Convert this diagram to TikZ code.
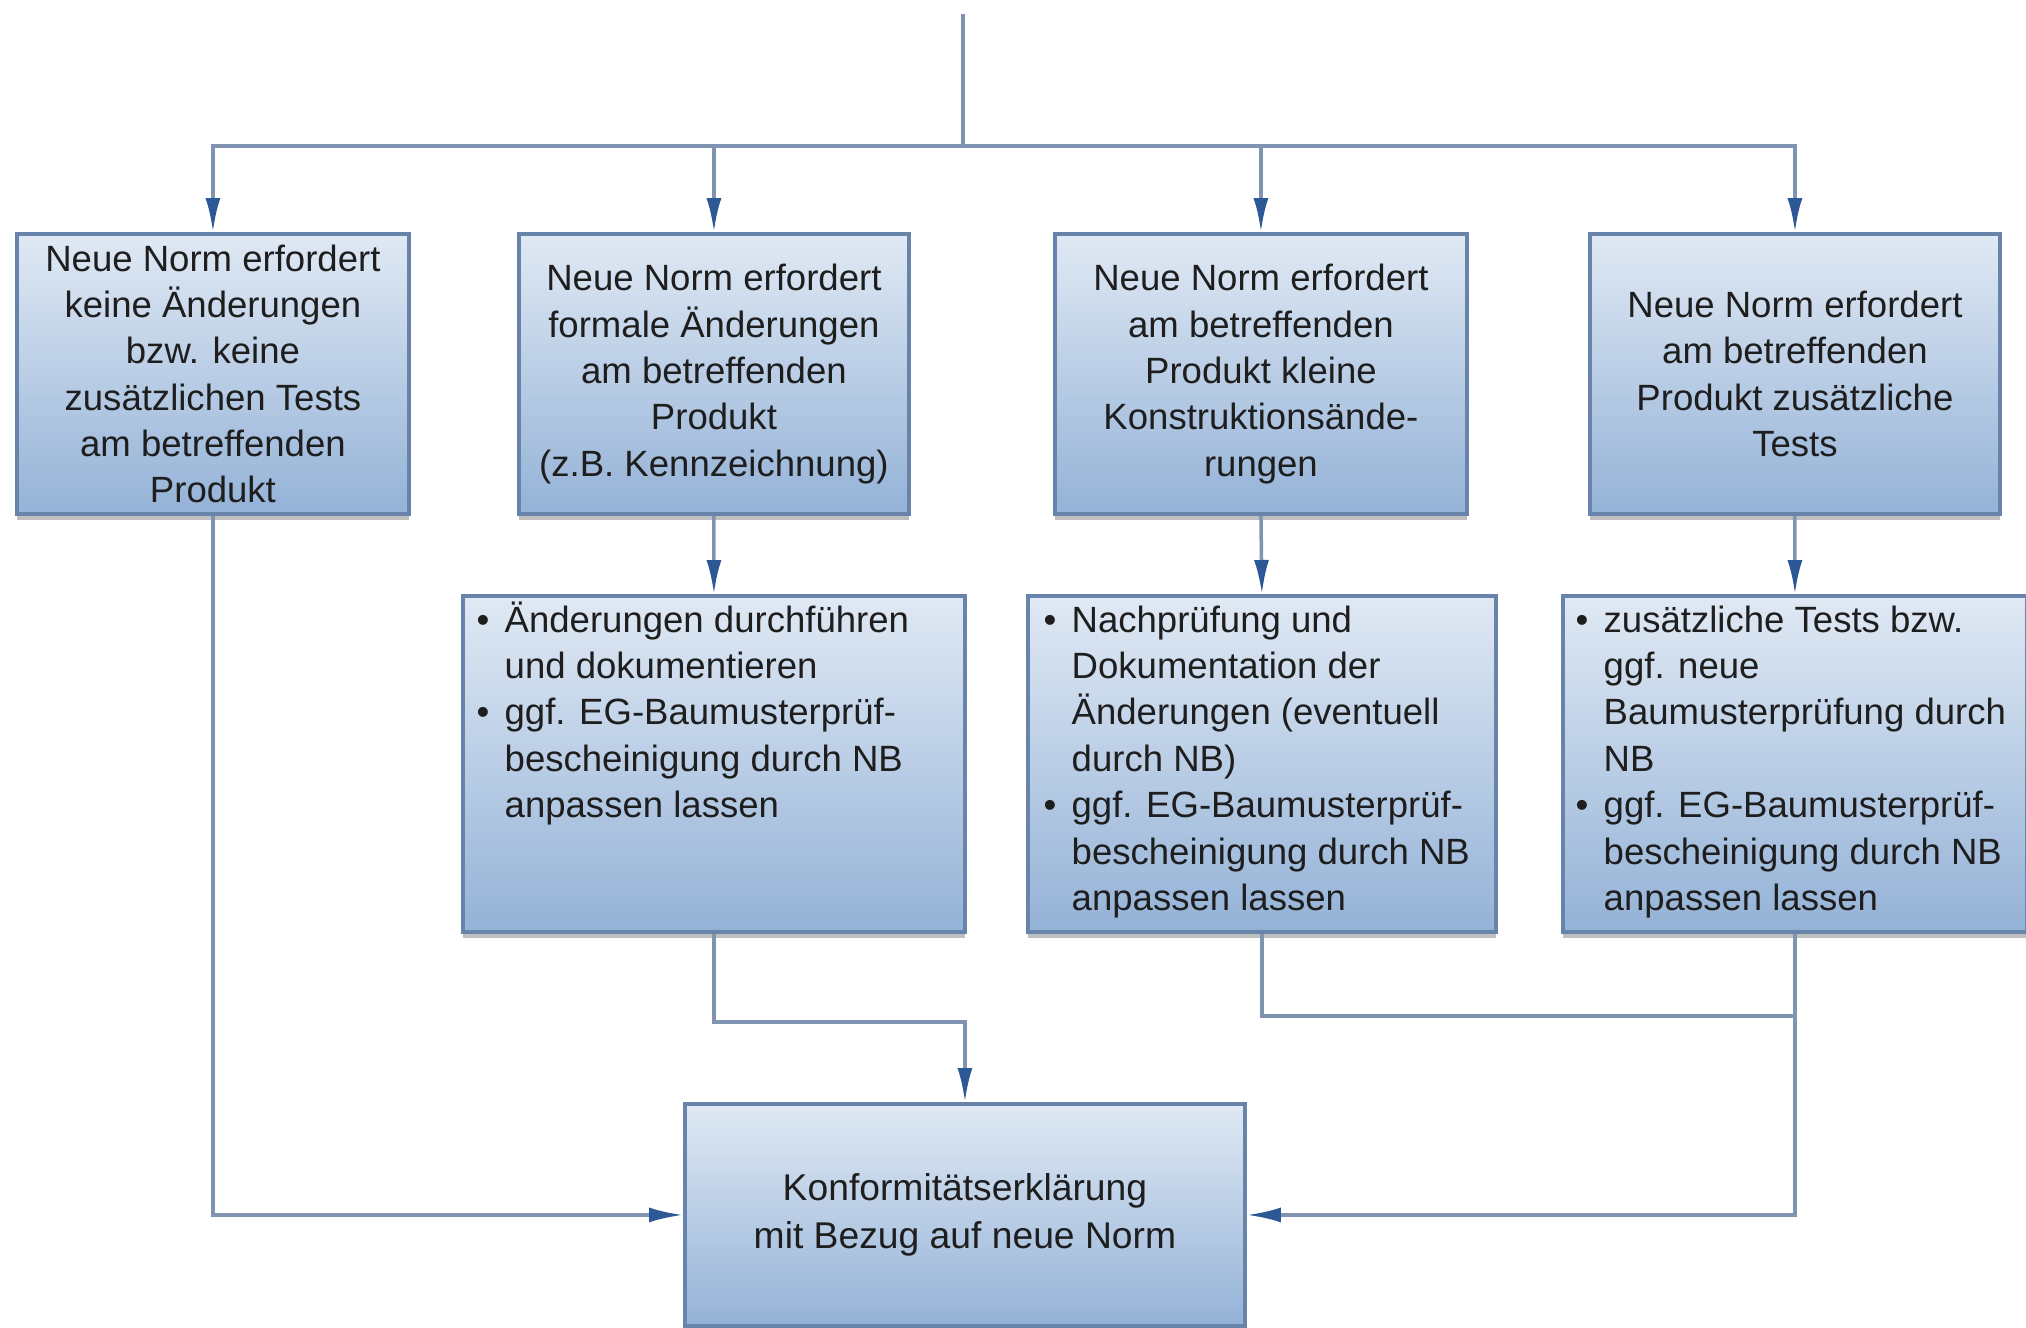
\documentclass[tikz,border=0pt]{standalone}
\usepackage{fontspec}
\setmainfont{Liberation Sans}
\usetikzlibrary{arrows.meta,shadows,calc}
\definecolor{boxtop}{RGB}{224,233,244}
\definecolor{boxbot}{RGB}{148,178,215}
\definecolor{boxline}{RGB}{104,132,170}
\definecolor{conncol}{RGB}{128,148,178}
\definecolor{arrowcol}{RGB}{44,88,150}
\definecolor{txtcol}{RGB}{30,30,30}
\newcommand\bul{\strut\makebox[0.28cm][l]{•}}
\newcommand\ind{\hspace*{0.28cm}}
\begin{document}
\begin{tikzpicture}[
  box/.style={draw=boxline, line width=1.1pt, top color=boxtop, bottom color=boxbot,
    drop shadow={shadow xshift=0pt, shadow yshift=-1.6pt, fill=black, opacity=0.25},
    inner sep=0pt, anchor=north west, align=center, text=txtcol,
    font=\fontsize{10.4}{13.2}\selectfont},
  btext/.style={anchor=north west, align=left, inner sep=0pt, text=txtcol,
    font=\fontsize{10.4}{13.2}\selectfont},
  conn/.style={draw=conncol, line width=1pt},
  arr/.style={conn, -{Latex[length=3.4mm,width=1.5mm,color=arrowcol,fill=arrowcol]}}
]
\useasboundingbox (0,0) rectangle (20.26,-13.27);

% top row
\node[box, minimum width=3.92cm, minimum height=2.80cm] (A) at (0.15,-2.32)
  {Neue Norm erfordert\\keine Änderungen\\bzw. keine\\zusätzlichen Tests\\am betreffenden\\Produkt};
\node[box, minimum width=3.90cm, minimum height=2.80cm] (B) at (5.17,-2.32)
  {Neue Norm erfordert\\formale Änderungen\\am betreffenden\\Produkt\\(z.B. Kennzeichnung)};
\node[box, minimum width=4.12cm, minimum height=2.80cm] (C) at (10.53,-2.32)
  {Neue Norm erfordert\\am betreffenden\\Produkt kleine\\Konstruktionsände-\\rungen};
\node[box, minimum width=4.10cm, minimum height=2.80cm] (D) at (15.88,-2.32)
  {Neue Norm erfordert\\am betreffenden\\Produkt zusätzliche\\Tests};

% middle row
\node[box, minimum width=5.02cm, minimum height=3.36cm] (E) at (4.61,-5.94) {};
\node[box, minimum width=4.68cm, minimum height=3.36cm] (F) at (10.26,-5.94) {};
\node[box, minimum width=4.64cm, minimum height=3.36cm] (G) at (15.61,-5.94) {};

\node[btext] (Et) at ($(E.north west)+(0.15,-0.05)$)
  {\bul Änderungen durchführen\\\ind und dokumentieren\\\bul ggf. EG-Baumusterprüf-\\\ind bescheinigung durch NB\\\ind anpassen lassen};
\node[btext] (Ft) at ($(F.north west)+(0.17,-0.05)$)
  {\bul Nachprüfung und\\\ind Dokumentation der\\\ind Änderungen (eventuell\\\ind durch NB)\\\bul ggf. EG-Baumusterprüf-\\\ind bescheinigung durch NB\\\ind anpassen lassen};
\node[btext] (Gt) at ($(G.north west)+(0.14,-0.05)$)
  {\bul zusätzliche Tests bzw.\\\ind ggf. neue\\\ind Baumusterprüfung durch\\\ind NB\\\bul ggf. EG-Baumusterprüf-\\\ind bescheinigung durch NB\\\ind anpassen lassen};

% bottom
\node[box, minimum width=5.60cm, minimum height=2.22cm,
  font=\fontsize{10.6}{13.8}\selectfont] (H) at (6.83,-11.02)
  {Konformitätserklärung\\mit Bezug auf neue Norm};

% connectors
\coordinate (top) at (9.63,-0.14);
\coordinate (bus) at (9.63,-1.46);
\draw[conn] (top) -- (bus);
\draw[arr] (bus) -| (A.north);
\draw[arr] (bus) -| (B.north);
\draw[arr] (bus) -| (C.north);
\draw[arr] (bus) -| (D.north);

\draw[arr] (B.south) -- (E.north);
\draw[arr] (C.south) -- (F.north);
\draw[arr] (D.south) -- (G.north);

\draw[arr] (E.south) -- ++(0,-0.88) -| (H.north);
\draw[conn] (F.south) |- ($(G.south)+(0,-0.82)$);
\draw[arr] (G.south) |- (H.east);
\draw[arr] (A.south) |- (H.west);
\end{tikzpicture}
\end{document}
